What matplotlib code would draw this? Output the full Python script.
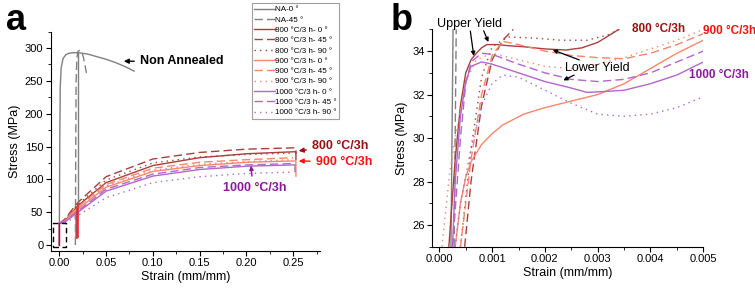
import matplotlib
matplotlib.use("Agg")
import matplotlib.pyplot as plt
from matplotlib.ticker import MultipleLocator

plt.rcParams['font.family'] = ['Liberation Sans', 'DejaVu Sans']

# colours
gray = '#808080'
c800 = '#a8403c'
c900 = '#f7866c'
c1000 = '#b466cc'
t800 = '#9c1010'
t900 = '#ff1010'
t1000 = '#8a1a9a'

# ---------------- panel a data (strain, stress MPa) ----------------
na0_x = [0.0, 0.0005, 0.001, 0.002, 0.004, 0.007, 0.01, 0.015, 0.02, 0.03, 0.04, 0.05, 0.06, 0.07, 0.08]
na0_y = [0, 150, 240, 270, 284, 290, 292, 293, 293, 291, 287, 283, 278, 272, 265]
na45_x = [0.0172, 0.0176, 0.018, 0.0188, 0.02, 0.022, 0.024, 0.026, 0.028, 0.029]
na45_y = [0, 150, 250, 285, 295, 297, 294, 285, 270, 262]
na_drop_x = [0.0205, 0.0205]
na_drop_y = [293, 60]

a800_0_x = [0.0, 0.0, 0.005, 0.02, 0.05, 0.1, 0.15, 0.2, 0.25, 0.253, 0.253]
a800_0_y = [0, 33, 35, 60, 95, 121, 133, 139, 142, 142, 130]
a800_45_x = [0.0, 0.005, 0.02, 0.05, 0.1, 0.15, 0.2, 0.25, 0.253, 0.253]
a800_45_y = [33, 38, 65, 104, 131, 141, 146, 148, 148, 138]
a800_90_x = [0.0, 0.005, 0.02, 0.05, 0.1, 0.15, 0.2, 0.25]
a800_90_y = [33, 37, 62, 99, 125, 134, 138, 140]
a900_0_x = [0.0, 0.005, 0.02, 0.05, 0.1, 0.15, 0.2, 0.25, 0.253, 0.253]
a900_0_y = [33, 35, 55, 88, 112, 121, 126, 128, 128, 105]
a900_45_x = [0.0, 0.005, 0.02, 0.05, 0.1, 0.15, 0.2, 0.25]
a900_45_y = [33, 36, 58, 92, 117, 126, 130, 133]
a900_90_x = [0.0, 0.005, 0.02, 0.05, 0.1, 0.15, 0.2, 0.25]
a900_90_y = [33, 36, 57, 90, 114, 123, 127, 130]
a1000_0_x = [0.0, 0.005, 0.02, 0.05, 0.1, 0.15, 0.2, 0.25, 0.252, 0.252]
a1000_0_y = [33, 34, 50, 82, 105, 115, 120, 122, 122, 112]
a1000_45_x = [0.0, 0.005, 0.02, 0.05, 0.1, 0.15, 0.2, 0.25]
a1000_45_y = [33, 35, 52, 85, 108, 118, 122, 124]
a1000_90_x = [0.0, 0.005, 0.02, 0.05, 0.1, 0.15, 0.2, 0.25]
a1000_90_y = [33, 33, 45, 72, 95, 104, 109, 111]
# short vertical segments near 0.018 strain
seg_x = [0.0195, 0.018, 0.0185]
seg_top = [62, 50, 55]
seg_bot = [12, 10, 11]
seg_col = ['#ff2020', c1000, c800]
box_x = [-0.0065, 0.0068, 0.0068, -0.0065, -0.0065]
box_y = [-2.5, -2.5, 33, 33, -2.5]

# ---------------- panel b data ----------------
b_na0_x = [0.00022, 0.00026]
b_na0_y = [25, 35]
b_na45_x = [0.00028, 0.00032]
b_na45_y = [25, 35]
b800_0_x = [0.00018, 0.0003, 0.0004, 0.0005, 0.0006, 0.0007, 0.0008, 0.0009, 0.0011, 0.0013, 0.0016, 0.002, 0.0024, 0.0027, 0.003, 0.0032, 0.0034]
b800_0_y = [25, 29, 31.5, 33, 33.6, 33.9, 34.15, 34.3, 34.3, 34.25, 34.2, 34.1, 34.05, 34.15, 34.4, 34.7, 35.0]
b800_45_x = [0.00048, 0.0006, 0.0008, 0.001, 0.0012, 0.0014]
b800_45_y = [25, 28, 31.5, 33.6, 34.5, 35.0]
b800_90_x = [0.0004, 0.0006, 0.0008, 0.001, 0.0013, 0.0018, 0.0023, 0.0028, 0.0032, 0.0034]
b800_90_y = [25, 29.5, 32.8, 34.2, 34.65, 34.6, 34.5, 34.5, 34.75, 35.0]
b900_0_x = [0.0003, 0.0004, 0.0005, 0.0006, 0.0008, 0.001, 0.0012, 0.0016, 0.002, 0.0025, 0.003, 0.0035, 0.004, 0.0045, 0.005]
b900_0_y = [25, 27, 28.2, 28.9, 29.7, 30.2, 30.6, 31.1, 31.4, 31.7, 32.0, 32.5, 33.2, 33.9, 34.5]
b900_45_x = [0.0004, 0.0006, 0.0008, 0.001, 0.0012, 0.0015, 0.002, 0.0025, 0.003, 0.0035, 0.004, 0.0045, 0.005]
b900_45_y = [25, 29, 32, 33.8, 34.45, 34.3, 34.0, 33.8, 33.7, 33.65, 33.9, 34.3, 34.8]
b900_90_x = [0.00005, 0.0002, 0.0003, 0.0005, 0.0007, 0.001, 0.0015, 0.002, 0.0025, 0.003, 0.0035, 0.004, 0.0045, 0.005]
b900_90_y = [25, 28.5, 30, 32.6, 33.6, 33.9, 33.6, 33.3, 33.2, 33.4, 33.7, 34.1, 34.5, 35.0]
b1000_0_x = [0.00025, 0.0003, 0.0004, 0.0005, 0.0006, 0.0008, 0.001, 0.0015, 0.002, 0.0025, 0.0028, 0.0032, 0.0035, 0.004, 0.0045, 0.005]
b1000_0_y = [25, 28, 31, 32.6, 33.3, 33.5, 33.4, 33.0, 32.6, 32.3, 32.1, 32.15, 32.2, 32.5, 32.9, 33.5]
b1000_45_x = [0.00025, 0.0004, 0.0005, 0.0006, 0.0008, 0.001, 0.0015, 0.002, 0.0025, 0.003, 0.0035, 0.004, 0.0045, 0.005]
b1000_45_y = [25, 30, 32.5, 33.5, 33.9, 33.85, 33.4, 33.0, 32.7, 32.6, 32.7, 33.0, 33.5, 34.0]
b1000_90_x = [0.0003, 0.0004, 0.0006, 0.0008, 0.001, 0.0012, 0.0015, 0.002, 0.0025, 0.003, 0.0035, 0.004, 0.0045, 0.005]
b1000_90_y = [25, 27, 29.5, 31.5, 32.5, 32.9, 32.8, 32.2, 31.6, 31.1, 31.0, 31.1, 31.4, 31.9]

labels = ['NA-0 °', 'NA-45 °',
          '800 °C/3 h- 0 °', '800 °C/3 h- 45 °', '800 °C/3 h- 90 °',
          '900 °C/3 h- 0 °', '900 °C/3 h- 45 °', '900 °C/3 h- 90 °',
          '1000 °C/3 h- 0 °', '1000 °C/3 h- 45 °', '1000 °C/3 h- 90 °']

dash = (0, (6, 3))
dot = (0, (1, 3))
styles = [(gray, '-'), (gray, dash),
          (c800, '-'), (c800, dash), (c800, dot),
          (c900, '-'), (c900, dash), (c900, dot),
          (c1000, '-'), (c1000, dash), (c1000, dot)]

fig = plt.figure(figsize=(7.55, 2.88), dpi=100)
ax1 = fig.add_axes([0.0675, 0.1295, 0.3563, 0.7605])
ax2 = fig.add_axes([0.5726, 0.1434, 0.3589, 0.7546])

arrow = dict(arrowstyle='-|>', lw=1.0, mutation_scale=7)

# panel a
a_series = [(na0_x, na0_y), (na45_x, na45_y),
            (a800_0_x, a800_0_y), (a800_45_x, a800_45_y), (a800_90_x, a800_90_y),
            (a900_0_x, a900_0_y), (a900_45_x, a900_45_y), (a900_90_x, a900_90_y),
            (a1000_0_x, a1000_0_y), (a1000_45_x, a1000_45_y), (a1000_90_x, a1000_90_y)]
handles = []
for (x, y), (c, ls), lab in zip(a_series, styles, labels):
    h, = ax1.plot(x, y, color=c, ls=ls, lw=1.0, label=lab)
    handles.append(h)
ax1.plot(na_drop_x, na_drop_y, color=gray, lw=1.0)
ax1.plot([0, 0], [0, 33], color='#c0004a', lw=1.0)
for sx, st, sb, sc in zip(seg_x, seg_top, seg_bot, seg_col):
    ax1.plot([sx, sx], [sb, st], color=sc, lw=1.2)
ax1.plot(box_x, box_y, color='black', ls=(0, (4, 2.5)), lw=1.0)

ax1.set_xlim(-0.0089, 0.2787)
ax1.set_ylim(-8.7, 325)
ax1.xaxis.set_major_locator(MultipleLocator(0.05))
ax1.xaxis.set_minor_locator(MultipleLocator(0.025))
ax1.yaxis.set_major_locator(MultipleLocator(50))
ax1.yaxis.set_minor_locator(MultipleLocator(25))
ax1.xaxis.set_major_formatter(plt.FuncFormatter(lambda v, p: '%.2f' % v))
ax1.set_xlabel('Strain (mm/mm)', fontsize=9, labelpad=2)
ax1.set_ylabel('Stress (MPa)', fontsize=9, labelpad=3)

ax1.annotate('Non Annealed', xy=(0.066, 280), xytext=(0.086, 280), fontsize=9,
             fontweight='bold', va='center', arrowprops=dict(arrow, color='black'))
ax1.annotate('800 °C/3h', xy=(0.253, 143), xytext=(0.27, 151), fontsize=9,
             fontweight='bold', color=t800, va='center', annotation_clip=False,
             arrowprops=dict(arrow, color=t800))
ax1.annotate('900 °C/3h', xy=(0.253, 128), xytext=(0.274, 127), fontsize=9,
             fontweight='bold', color=t900, va='center', annotation_clip=False,
             arrowprops=dict(arrow, color=t900))
ax1.annotate('', xy=(0.205, 121), xytext=(0.206, 105),
             arrowprops=dict(arrowstyle='-|>', lw=1.0, mutation_scale=6, color=t1000,
                             shrinkA=0, shrinkB=0))
ax1.text(0.175, 87, '1000 °C/3h', fontsize=9, fontweight='bold', color=t1000,
         va='center', ha='left')

leg = ax1.legend(handles=handles, loc='upper left', bbox_to_anchor=(0.3334, 0.9885),
                 bbox_transform=fig.transFigure, fontsize=5.8, frameon=True,
                 fancybox=False, edgecolor='#888888', handlelength=2.6,
                 handletextpad=0.0, labelspacing=0.33, borderpad=0.3,
                 borderaxespad=0)
leg.get_frame().set_linewidth(0.8)

# panel b
b_series = [(b_na0_x, b_na0_y), (b_na45_x, b_na45_y),
            (b800_0_x, b800_0_y), (b800_45_x, b800_45_y), (b800_90_x, b800_90_y),
            (b900_0_x, b900_0_y), (b900_45_x, b900_45_y), (b900_90_x, b900_90_y),
            (b1000_0_x, b1000_0_y), (b1000_45_x, b1000_45_y), (b1000_90_x, b1000_90_y)]
for (x, y), (c, ls) in zip(b_series, styles):
    ax2.plot(x, y, color=c, ls=ls, lw=1.0)

ax2.set_xlim(-0.000133, 0.005)
ax2.set_ylim(25, 35)
ax2.xaxis.set_major_locator(MultipleLocator(0.001))
ax2.xaxis.set_minor_locator(MultipleLocator(0.0005))
ax2.yaxis.set_major_locator(MultipleLocator(2))
ax2.yaxis.set_minor_locator(MultipleLocator(1))
ax2.xaxis.set_major_formatter(plt.FuncFormatter(lambda v, p: '%.3f' % v))
ax2.set_xlabel('Strain (mm/mm)', fontsize=9, labelpad=2)
ax2.set_ylabel('Stress (MPa)', fontsize=9, labelpad=3)

small = dict(arrowstyle='-|>', color='black', lw=0.9, mutation_scale=6)
ax2.text(0.00058, 35.25, 'Upper Yield', fontsize=9, ha='center', va='center')
ax2.annotate('', xy=(0.00066, 33.65), xytext=(0.00058, 35.05), annotation_clip=False,
             arrowprops=small)
ax2.annotate('', xy=(0.00095, 34.3), xytext=(0.00082, 35.05), annotation_clip=False,
             arrowprops=small)
ax2.text(0.00238, 33.23, 'Lower Yield', fontsize=9, ha='left', va='center')
ax2.annotate('', xy=(0.0021, 34.1), xytext=(0.0027, 33.55), arrowprops=small)
ax2.annotate('', xy=(0.0023, 32.6), xytext=(0.0026, 32.95), arrowprops=small)
ax2.text(0.00365, 35.03, '800 °C/3h', fontsize=8.5, fontweight='bold', color=t800,
         va='center', clip_on=False)
ax2.text(0.00499, 34.92, '900 °C/3h', fontsize=8.5, fontweight='bold', color=t900,
         va='center', clip_on=False)
ax2.text(0.00472, 32.92, '1000 °C/3h', fontsize=8.5, fontweight='bold', color=t1000,
         va='center', clip_on=False)

for ax in (ax1, ax2):
    ax.spines['top'].set_visible(False)
    ax.spines['right'].set_visible(False)
    ax.tick_params(which='major', direction='out', length=3.5, labelsize=8, pad=2)
    ax.tick_params(which='minor', direction='out', length=2)

fig.text(0.008, 0.93, 'a', fontsize=26, fontweight='bold', va='center')
fig.text(0.518, 0.93, 'b', fontsize=26, fontweight='bold', va='center')

fig.savefig('out.png', dpi=100)
